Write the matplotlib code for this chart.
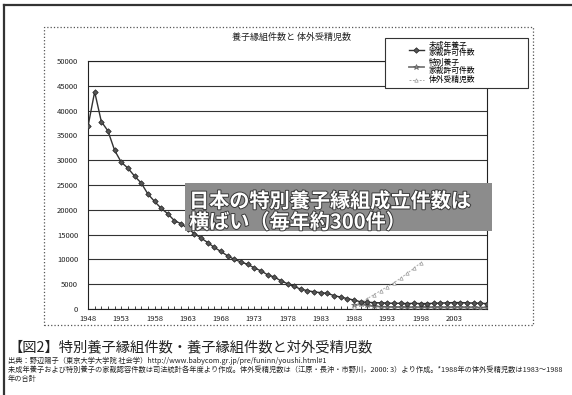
import matplotlib
matplotlib.use('Agg')
import matplotlib.pyplot as plt
import matplotlib.patheffects as pe
from matplotlib.patches import Rectangle
from matplotlib.lines import Line2D

plt.rcParams['font.family'] = ['Noto Sans CJK JP', 'DejaVu Sans']

# ---- data ----
years = list(range(1948, 2009))
minor_adoptions = [36800, 43800, 37800, 35900, 32000, 29600, 28400, 26800, 25400, 23200,
                   21700, 20300, 19200, 17800, 17200, 16200, 15200, 14300, 13400, 12400,
                   11600, 10700, 10000, 9500, 9000, 8300, 7700, 6900, 6450, 5700,
                   5100, 4550, 4000, 3700, 3450, 3300, 3150, 2700, 2400, 2100,
                   1800, 1450, 1350, 1300, 1250, 1200, 1150, 1150, 1100, 1150,
                   1100, 1100, 1150, 1200, 1250, 1300, 1300, 1250, 1200, 1150, 1100]
years_special = list(range(1988, 2009))
special_adoptions = [730, 1000, 720, 550, 470, 420, 380, 380, 350, 330, 340,
                     360, 340, 330, 330, 340, 330, 310, 320, 290, 310]
years_ivf = list(range(1988, 1999))
ivf_births = [500, 1300, 2100, 2900, 3700, 4500, 5300, 6200, 7200, 8200, 9300]

series_labels = ['未成年養子\n家裁許可件数', '特別養子\n家裁許可件数', '体外受精児数']
ytick_values = list(range(0, 50001, 5000))
xtick_years = list(range(1948, 2004, 5))

W, H = 572, 395
def fx(px):
    return px / W
def fy(py):
    return 1 - py / H

fig = plt.figure(figsize=(W / 100, H / 100), dpi=100)
fig.patch.set_facecolor('white')

# outer frame (top and left)
fig.add_artist(Line2D([fx(4), 1], [fy(5), fy(5)], color='#333', lw=1.6))
fig.add_artist(Line2D([fx(4), fx(4)], [fy(5), 0], color='#333', lw=1.6))

# chart area dotted border
fig.add_artist(Rectangle((fx(44), fy(325)), (533 - 44) / W, (325 - 27) / H,
                         fill=False, ls=':', lw=0.9, ec='#555'))

ax = fig.add_axes([fx(88), fy(309), (487 - 88) / W, (309 - 61) / H])
ax.set_xlim(1948, 2008)
ax.set_ylim(0, 50000)

ax.plot(years, minor_adoptions, color='#333', lw=1.0, marker='D', ms=2.8,
        mfc='#555', mec='#222', mew=0.5, zorder=4, label=series_labels[0])
ax.plot(years_special, special_adoptions, color='#777', lw=1.3, marker='*', ms=4,
        mfc='#888', mec='#555', mew=0.4, zorder=3, label=series_labels[1])
ax.plot(years_ivf, ivf_births, color='#aaa', lw=0.7, ls=(0, (2, 1.5)), marker='^', ms=2.5,
        mfc='white', mec='#999', mew=0.5, zorder=3, label=series_labels[2])

ax.set_yticks(ytick_values)
ax.set_yticklabels([str(v) for v in ytick_values])
ax.yaxis.grid(True, color='#333', lw=0.8)
ax.set_axisbelow(True)
ax.set_xticks(xtick_years)
ax.set_xticklabels([str(y) for y in xtick_years])
ax.set_xticks(years, minor=True)
ax.tick_params(axis='y', length=0, pad=7, labelsize=5.5, labelcolor='#222')
ax.tick_params(axis='x', which='both', direction='in', length=2.5, width=0.6,
               labelsize=5.5, pad=4, labelcolor='#222', color='#222')
for s in ax.spines.values():
    s.set_color('#222')
    s.set_linewidth(0.8)

# chart title
fig.text(fx(292), fy(37), '養子縁組件数と 体外受精児数', ha='center', va='center',
         fontsize=6.5, color='#222')

# legend
fig.add_artist(Rectangle((fx(385), fy(88)), (528 - 385) / W, (88 - 38) / H,
                         facecolor='white', ec='#333', lw=0.8, zorder=5))
handles, labels = ax.get_legend_handles_labels()
leg = fig.legend(handles, labels, loc='upper left', bbox_to_anchor=(fx(404), fy(37)),
                 frameon=False, fontsize=5.6, handlelength=2.0, handletextpad=0.6,
                 labelspacing=0.2, borderpad=0.1)
leg.set_zorder(6)
for t in leg.get_texts():
    t.set_linespacing(0.95)

# annotation box
fig.add_artist(Rectangle((fx(185), fy(231)), (492 - 185) / W, (231 - 183) / H,
                         facecolor='#8c8c8c', ec='none', zorder=7))
stroke = [pe.withStroke(linewidth=1.4, foreground='#3a3a3a')]
fig.text(fx(189), fy(201), '日本の特別養子縁組成立件数は', ha='left', va='center',
         fontsize=14.5, fontweight='bold', color='white', path_effects=stroke, zorder=8)
fig.text(fx(189), fy(222), '横ばい（毎年約300件）', ha='left', va='center',
         fontsize=14.5, fontweight='bold', color='white', path_effects=stroke, zorder=8)

# caption
fig.text(fx(8), fy(347), '【図2】特別養子縁組件数・養子縁組件数と対外受精児数',
         ha='left', va='center', fontsize=10.3, color='#222')
fig.text(fx(8), fy(361), '出典：野辺陽子（東京大学大学院 社会学）http://www.babycom.gr.jp/pre/funinn/youshi.html#1',
         ha='left', va='center', fontsize=5.2, color='#222')
fig.text(fx(8), fy(370), '未成年養子および特別養子の家裁認容件数は司法統計各年度より作成。体外受精児数は（江原・長沖・市野川，2000: 3）より作成。*1988年の体外受精児数は1983～1988',
         ha='left', va='center', fontsize=5.2, color='#222')
fig.text(fx(8), fy(379), '年の合計', ha='left', va='center', fontsize=5.2, color='#222')

fig.savefig('out.png', dpi=100)
